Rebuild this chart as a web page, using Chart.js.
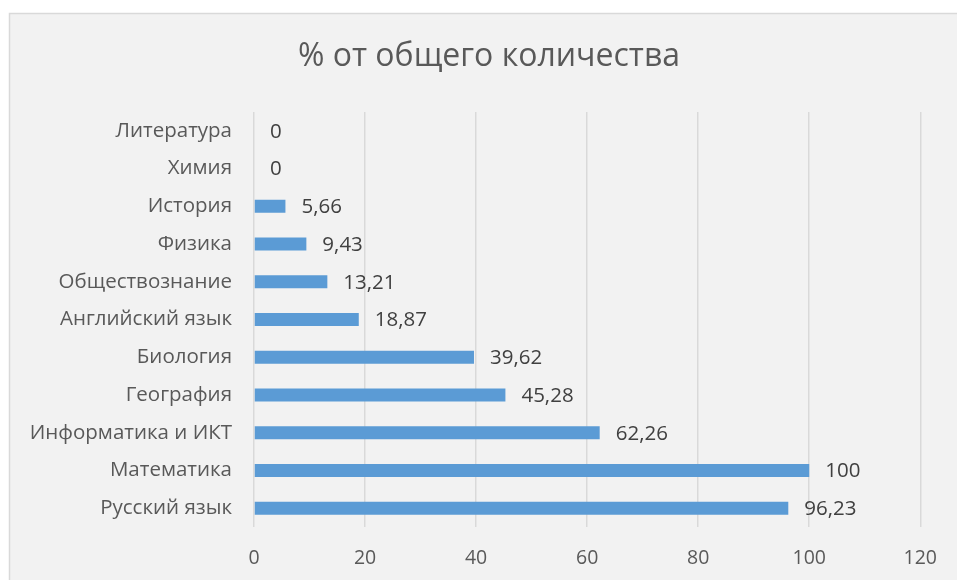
<!DOCTYPE html>
<html>
<head>
<meta charset="utf-8">
<script src="https://cdn.jsdelivr.net/npm/chart.js@4/dist/chart.umd.min.js"></script>
<style>
html,body{margin:0;padding:0;background:#fff;}
canvas{display:block;}
</style>
</head>
<body>
<canvas id="c" width="957" height="580"></canvas>
<script>
const chartTitle = "% от общего количества";
const categories = ["Литература","Химия","История","Физика","Обществознание","Английский язык","Биология","География","Информатика и ИКТ","Математика","Русский язык"];
const values = [0,0,5.66,9.43,13.21,18.87,39.62,45.28,62.26,100,96.23];
const xTicks = [0,20,40,60,80,100,120];

const FONT = "'Open Sans', 'DejaVu Sans', sans-serif";

const bgPlugin = {
  id: 'bg',
  beforeDraw(chart) {
    const ctx = chart.ctx;
    ctx.save();
    ctx.fillStyle = '#ffffff';
    ctx.fillRect(0, 0, chart.width, chart.height);
    ctx.fillStyle = '#f2f2f2';
    ctx.fillRect(9.5, 13.5, chart.width, chart.height);
    ctx.strokeStyle = '#d9d9d9';
    ctx.lineWidth = 1.5;
    ctx.strokeRect(9.5, 13.5, chart.width + 10, chart.height + 10);
    ctx.fillStyle = '#595959';
    ctx.font = "32px " + FONT;
    ctx.textAlign = 'center';
    ctx.textBaseline = 'middle';
    ctx.fillText(chartTitle, 489, 57);
    ctx.restore();
  }
};

const labelPlugin = {
  id: 'vlabels',
  afterDatasetsDraw(chart) {
    const ctx = chart.ctx;
    const meta = chart.getDatasetMeta(0);
    ctx.save();
    ctx.fillStyle = '#404040';
    ctx.font = "20.5px " + FONT;
    ctx.textAlign = 'left';
    ctx.textBaseline = 'middle';
    meta.data.forEach((bar, i) => {
      const txt = String(values[i]).replace('.', ',');
      ctx.fillText(txt, bar.x + 16, bar.y + 1);
    });
    ctx.restore();
  }
};

new Chart(document.getElementById('c'), {
  type: 'bar',
  data: {
    labels: categories,
    datasets: [{
      data: values,
      backgroundColor: '#5b9bd5',
      borderWidth: 0,
      barPercentage: 0.345,
      categoryPercentage: 1
    }]
  },
  options: {
    indexAxis: 'y',
    responsive: false,
    animation: false,
    layout: { padding: { left: 0, right: 36, top: 112, bottom: 0 } },
    plugins: { legend: { display: false }, tooltip: { enabled: false }, title: { display: false } },
    scales: {
      x: {
        min: 0, max: 120,
        afterBuildTicks(scale) { scale.ticks = xTicks.map(v => ({ value: v })); },
        afterFit(scale) { scale.height = 53; },
        grid: { color: '#d9d9d9', lineWidth: 1.5, drawTicks: false },
        border: { display: false },
        ticks: { color: '#595959', font: { family: FONT, size: 19.5 }, padding: 20, maxRotation: 0 }
      },
      y: {
        afterFit(scale) { scale.width = 254; },
        grid: { display: false, drawTicks: false },
        border: { display: false },
        ticks: { color: '#595959', font: { family: FONT, size: 20.5 }, padding: 22, autoSkip: false }
      }
    }
  },
  plugins: [bgPlugin, labelPlugin]
});
</script>
</body>
</html>
